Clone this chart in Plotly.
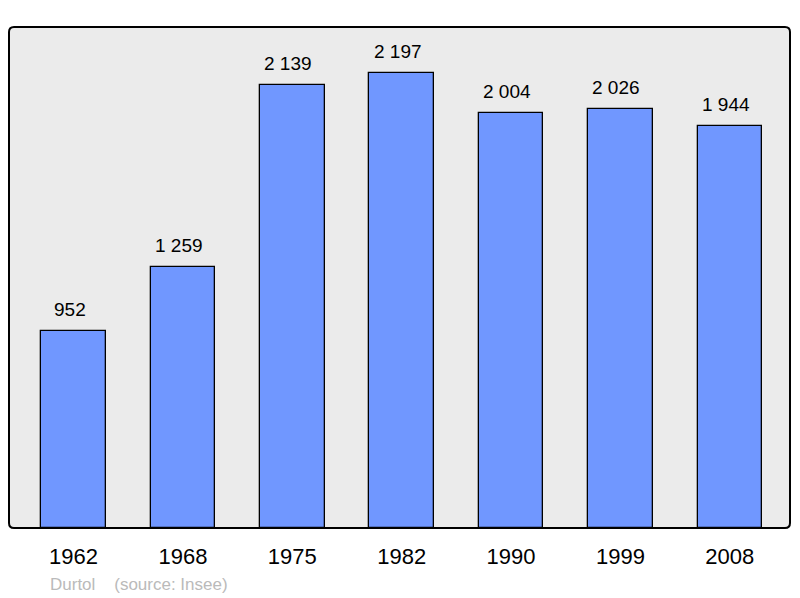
import plotly.graph_objects as go

years = ["1962", "1968", "1975", "1982", "1990", "1999", "2008"]
population = [952, 1259, 2139, 2197, 2004, 2026, 1944]
value_labels = ["952", "1 259", "2 139", "2 197", "2 004", "2 026", "1 944"]
source_text = "Durtol    (source: Insee)"

# page has an 8px body margin, so the figure is drawn 8px smaller and offset
OFF = 8
W, H = 800 - OFF, 598 - OFF
ml, mt = 9 - OFF, 27 - OFF
pw, ph = 781, 501
mr, mb = W - ml - pw, H - mt - ph

xpos = list(range(len(years)))

fig = go.Figure()
fig.add_trace(go.Bar(
    x=xpos, y=population,
    width=0.59,
    marker=dict(color="#7097ff", line=dict(color="#000000", width=1.3)),
    hoverinfo="skip",
))

for xi, v, t in zip(xpos, population, value_labels):
    fig.add_annotation(x=xi, y=v, text=t, showarrow=False, yanchor="bottom",
                       yshift=9, xshift=-4, font=dict(size=19, color="#000000"))

# rounded frame
r = 5
rx, ry = r / pw, r / ph
path = (f"M {rx},0 L {1-rx},0 Q 1,0 1,{ry} L 1,{1-ry} Q 1,1 {1-rx},1 "
        f"L {rx},1 Q 0,1 0,{1-ry} L 0,{ry} Q 0,0 {rx},0 Z")
fig.add_shape(type="path", path=path, xref="paper", yref="paper",
              fillcolor="#ebebeb", line=dict(color="#000000", width=2), layer="below")

fig.add_annotation(x=(48 - 9) / pw, y=-(584 - 528) / ph, xref="paper", yref="paper",
                   text=source_text, showarrow=False, xanchor="left", yanchor="middle",
                   font=dict(size=17, color="#bababa"))

fig.update_layout(
    width=W, height=H,
    margin=dict(l=ml, r=mr, t=mt, b=mb),
    paper_bgcolor="#ffffff", plot_bgcolor="rgba(0,0,0,0)",
    font=dict(family="Liberation Sans, Arial, sans-serif", color="#000000"),
    showlegend=False,
    bargap=0,
)
fig.update_xaxes(range=[-0.59, 6.55], tickvals=xpos, ticktext=years,
                 tickfont=dict(size=22), showgrid=False, zeroline=False,
                 showline=False, ticks="", ticklabelstandoff=13, fixedrange=True)
fig.update_yaxes(range=[0, 2420], showgrid=False, zeroline=False, showline=False,
                 showticklabels=False, fixedrange=True)

fig.write_html("out.html")
